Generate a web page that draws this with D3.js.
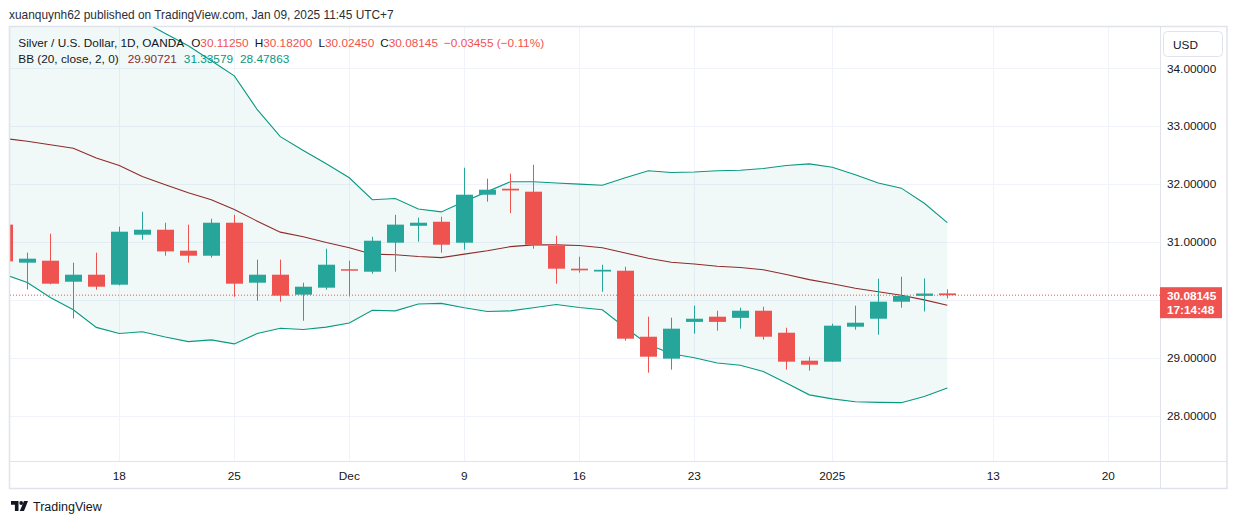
<!DOCTYPE html>
<html><head><meta charset="utf-8">
<script src="https://cdn.jsdelivr.net/npm/d3@7"></script>
<style>
html,body{margin:0;padding:0;background:#fff;}
svg{display:block;font-family:"Liberation Sans",Arial,sans-serif;}
</style></head><body>
<svg id="chart" width="1237" height="524"></svg>
<script>
// ---------- data ----------
const dates = ["2024-11-11","2024-11-12","2024-11-13","2024-11-14","2024-11-15","2024-11-18","2024-11-19","2024-11-20","2024-11-21","2024-11-22","2024-11-25","2024-11-26","2024-11-27","2024-11-28","2024-11-29","2024-12-02","2024-12-03","2024-12-04","2024-12-05","2024-12-06","2024-12-09","2024-12-10","2024-12-11","2024-12-12","2024-12-13","2024-12-16","2024-12-17","2024-12-18","2024-12-19","2024-12-20","2024-12-23","2024-12-24","2024-12-26","2024-12-27","2024-12-30","2024-12-31","2025-01-02","2025-01-03","2025-01-06","2025-01-07","2025-01-08","2025-01-09"];
const open  = [31.30,30.643,30.677,30.314,30.435,30.263,31.126,31.212,30.85,30.763,31.333,30.297,30.435,30.09,30.211,30.53,30.487,30.988,31.28,31.35,30.988,31.817,31.92,31.869,30.936,30.539,30.49,30.504,29.364,28.985,29.62,29.71,29.69,29.813,29.433,28.95,28.933,29.537,29.675,29.969,30.07,30.1125];
const high  = [31.35,30.816,31.143,30.643,30.816,31.264,31.523,31.333,31.30,31.402,31.47,30.695,30.695,30.297,30.884,30.677,31.09,31.47,31.42,31.437,32.283,32.093,32.18,32.335,31.109,30.746,30.608,30.573,29.71,29.693,29.90,29.813,29.865,29.882,29.52,29.019,29.59,29.90,30.366,30.40,30.37,30.182];
const low   = [30.60,30.18,30.27,29.68,30.176,30.25,31.04,30.763,30.643,30.729,30.055,29.986,29.969,29.64,30.176,30.06,30.452,30.487,31.005,30.815,30.867,31.696,31.50,30.884,30.28,30.47,30.14,29.296,28.743,28.795,29.416,29.468,29.503,29.313,28.795,28.778,28.93,29.485,29.399,29.865,29.80,30.0245];
const close = [30.665,30.712,30.28,30.435,30.228,31.178,31.212,30.838,30.763,31.333,30.28,30.435,30.073,30.228,30.608,30.51,31.022,31.30,31.333,30.953,31.817,31.903,31.89,30.953,30.539,30.51,30.52,29.33,29.019,29.503,29.675,29.62,29.813,29.364,28.933,28.881,29.555,29.606,29.969,30.07,30.11,30.08145];
const bbUpper = [35.15,35.17,35.32,35.41,35.37,35.24,34.82,34.60,34.39,34.13,33.87,33.285,32.82,32.58,32.35,32.11,31.73,31.75,31.57,31.52,31.70,31.87,32.04,32.04,32.02,32.00,31.98,32.11,32.23,32.20,32.21,32.23,32.24,32.27,32.32,32.35,32.29,32.16,32.02,31.93,31.67,31.336];
const bbBasis = [32.79,32.74,32.68,32.62,32.45,32.32,32.13,31.99,31.85,31.73,31.56,31.36,31.17,31.09,30.99,30.90,30.79,30.78,30.75,30.73,30.79,30.85,30.92,30.95,30.95,30.94,30.90,30.81,30.72,30.65,30.62,30.58,30.56,30.52,30.44,30.35,30.28,30.20,30.14,30.08,30.00,29.907];
const bbLower = [30.44,30.30,30.04,29.83,29.525,29.42,29.45,29.36,29.28,29.31,29.24,29.42,29.51,29.49,29.53,29.60,29.82,29.81,29.93,29.94,29.865,29.80,29.81,29.865,29.92,29.87,29.83,29.52,29.23,29.07,29.00,28.91,28.87,28.765,28.565,28.36,28.29,28.24,28.23,28.225,28.33,28.479];
const priceTicks = [28,29,30,31,32,33,34];
const timeTickIndex = [5,10,15,20,25,30,36,43,48];
const timeTickLabels = ["18","25","Dec","9","16","23","2025","13","20"];
const headerText = "xuanquynh62 published on TradingView.com, Jan 09, 2025 11:45 UTC+7";
const symbolTitle = "Silver / U.S. Dollar, 1D, OANDA";
const ohlcLabels = ["O","H","L","C"];
const ohlcValues = ["30.11250","30.18200","30.02450","30.08145"];
const changeText = "\u22120.03455 (\u22120.11%)";
const bbTitle = "BB (20, close, 2, 0)";
const bbValues = ["29.90721","31.33579","28.47863"];
const lastPrice = 30.08145;
const countdown = "17:14:48";
const currency = "USD";

// ---------- layout ----------
const L = 10, T = 26, PR = 1160, FR = 1227, AB = 461, FB = 488;
const UP = "#26a69a", DN = "#ef5350", TEAL = "#089981", BASIS = "#8e2b2b", TXT = "#131722";
const FS = 11.8;
const barStep = 23;
const x = d3.scaleLinear().domain([0.248, 0.248 + (PR - L) / barStep]).range([L, PR]);
const y = d3.scaleLinear().domain([28, 34]).range([415.7, 68.3]);

const svg = d3.select("#chart");
svg.append("rect").attr("width",1237).attr("height",524).attr("fill","#fff");

svg.append("defs").append("clipPath").attr("id","plotClip")
  .append("rect").attr("x",L).attr("y",T).attr("width",PR-L).attr("height",AB-T);

// header
svg.append("text").attr("x",9).attr("y",18.5).attr("font-size",11.9).attr("fill","#2a2e39").text(headerText);

// grid
const grid = svg.append("g");
grid.selectAll(".hg").data(priceTicks).enter().append("line")
  .attr("x1",L).attr("x2",PR).attr("y1",d=>Math.round(y(d))+0.5).attr("y2",d=>Math.round(y(d))+0.5)
  .attr("stroke","#f0f3fa").attr("stroke-width",1);
grid.selectAll(".vg").data(timeTickIndex).enter().append("line")
  .attr("x1",d=>Math.round(x(d))+0.5).attr("x2",d=>Math.round(x(d))+0.5).attr("y1",T).attr("y2",AB)
  .attr("stroke","#f0f3fa").attr("stroke-width",1);

const plot = svg.append("g").attr("clip-path","url(#plotClip)");
const idx = d3.range(dates.length);

// BB fill and lines
plot.append("path").datum(idx)
  .attr("d", d3.area().x(i=>x(i)).y0(i=>y(bbLower[i])).y1(i=>y(bbUpper[i])))
  .attr("fill","rgba(8,153,129,0.055)");
const lineOf = arr => d3.line().x(i=>x(i)).y(i=>y(arr[i]));
plot.append("path").datum(idx).attr("d",lineOf(bbUpper)).attr("fill","none").attr("stroke",TEAL).attr("stroke-width",1.1);
plot.append("path").datum(idx).attr("d",lineOf(bbLower)).attr("fill","none").attr("stroke",TEAL).attr("stroke-width",1.1);
plot.append("path").datum(idx).attr("d",lineOf(bbBasis)).attr("fill","none").attr("stroke",BASIS).attr("stroke-width",1.1);

// candles
const bodyW = 17;
const cg = plot.append("g");
const c = cg.selectAll("g").data(idx).enter().append("g");
c.append("line")
  .attr("x1",i=>Math.round(x(i))+0.5).attr("x2",i=>Math.round(x(i))+0.5)
  .attr("y1",i=>y(high[i])).attr("y2",i=>y(low[i]))
  .attr("stroke",i=>close[i]>=open[i]?UP:DN).attr("stroke-width",1);
c.append("rect")
  .attr("x",i=>Math.round(x(i))+0.5-bodyW/2).attr("width",bodyW)
  .attr("y",i=>y(Math.max(open[i],close[i])))
  .attr("height",i=>Math.max(1.5, y(Math.min(open[i],close[i]))-y(Math.max(open[i],close[i]))))
  .attr("fill",i=>close[i]>=open[i]?UP:DN);

// last price dotted line
plot.append("line").attr("x1",L).attr("x2",PR).attr("y1",y(lastPrice)).attr("y2",y(lastPrice))
  .attr("stroke",DN).attr("stroke-width",1).attr("stroke-dasharray","1,2");

// frame and axis separators
svg.append("line").attr("x1",L).attr("x2",FR).attr("y1",AB+0.5).attr("y2",AB+0.5).attr("stroke","#e0e3eb");
svg.append("line").attr("x1",PR+0.5).attr("x2",PR+0.5).attr("y1",T).attr("y2",FB).attr("stroke","#e0e3eb");
svg.append("rect").attr("x",L-0.5).attr("y",T+0.5).attr("width",FR-L+0.5).attr("height",FB-T)
  .attr("fill","none").attr("stroke","#e0e3eb").attr("stroke-width",1.5);

// price axis labels (labels under the last-price tag are hidden, as in the reference)
const ly = y(lastPrice);
svg.append("g").selectAll("text").data(priceTicks.filter(d=>Math.abs(y(d)-(ly+7.5))>22)).enter().append("text")
  .attr("x",1167).attr("y",d=>y(d)+4.2).attr("font-size",FS).attr("fill",TXT).text(d=>d.toFixed(5));

// time axis labels
svg.append("g").selectAll("text").data(timeTickIndex).enter().append("text")
  .attr("x",d=>x(d)).attr("y",479.5).attr("text-anchor","middle").attr("font-size",FS).attr("fill",TXT)
  .text((d,i)=>timeTickLabels[i]);

// currency box
svg.append("rect").attr("x",1163.5).attr("y",31.5).attr("width",59).attr("height",25).attr("rx",4)
  .attr("fill","#fff").attr("stroke","#e0e3eb");
svg.append("text").attr("x",1173).attr("y",49).attr("font-size",FS).attr("fill",TXT).text(currency);

// last price label
svg.append("rect").attr("x",PR).attr("y",ly-8).attr("width",62).attr("height",31).attr("fill",DN);
svg.append("text").attr("x",1167).attr("y",ly+4.5).attr("font-size",FS).attr("font-weight","bold").attr("fill","#fff").text(lastPrice.toFixed(5));
svg.append("text").attr("x",1167).attr("y",ly+19).attr("font-size",FS).attr("font-weight","bold").attr("fill","#fff").text(countdown);

// legend
const lg1 = svg.append("text").attr("x",18.3).attr("y",46.5).attr("font-size",FS).attr("fill",TXT);
lg1.append("tspan").text(symbolTitle);
ohlcLabels.forEach((lab,i)=>{
  lg1.append("tspan").attr("dx",i===0?7:6).attr("fill",TXT).text(lab);
  lg1.append("tspan").attr("fill",DN).text(ohlcValues[i]);
});
lg1.append("tspan").attr("dx",6).attr("fill",DN).text(changeText);

const lg2 = svg.append("text").attr("x",18.3).attr("y",62.7).attr("font-size",FS).attr("fill",TXT);
lg2.append("tspan").text(bbTitle);
const bbCols = [BASIS, TEAL, TEAL];
bbValues.forEach((v,i)=>{
  lg2.append("tspan").attr("dx", i===0?9:7).attr("fill",bbCols[i]).text(v);
});

// TradingView logo
const logo = svg.append("g").attr("fill",TXT);
logo.append("path").attr("d","M11,501 h7.5 v10 h-3.6 v-6.2 h-3.9 z");
logo.append("circle").attr("cx",21.2).attr("cy",503).attr("r",1.9);
logo.append("path").attr("d","M24,501 h4 l-4,10 h-4.2 z");
svg.append("text").attr("x",33).attr("y",511).attr("font-size",12.5).attr("fill",TXT).text("TradingView");
</script>
</body></html>
